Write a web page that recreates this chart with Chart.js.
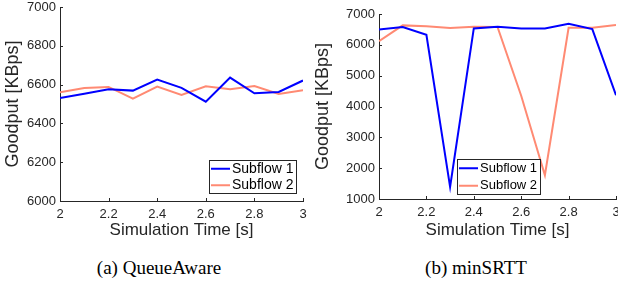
<!DOCTYPE html>
<html>
<head>
<meta charset="utf-8">
<script src="https://cdn.jsdelivr.net/npm/chart.js@4.4.0/dist/chart.umd.min.js"></script>
<style>
  body { margin: 0; background: #fff; width: 618px; height: 285px; position: relative; overflow: hidden; }
  .box { position: absolute; top: 0; }
  .cap { position: absolute; font-family: "Liberation Serif", "Times New Roman", serif; font-size: 19px; color: #000; transform: translateX(-50%); white-space: nowrap; }
</style>
</head>
<body>
<div class="box" style="left:0;width:310px;height:241px"><canvas id="queueChart" width="310" height="241"></canvas></div>
<div class="box" style="left:310px;width:308px;height:241px"><canvas id="srttChart" width="308" height="241"></canvas></div>
<div class="cap" style="left:159px;top:257px">(a) QueueAware</div>
<div class="cap" style="left:476px;top:257px">(b) minSRTT</div>
<script>
// temps de simulation (s)
const simTimes = [2.0, 2.1, 2.2, 2.3, 2.4, 2.5, 2.6, 2.7, 2.8, 2.9, 3.0];
const xTicks = [2, 2.2, 2.4, 2.6, 2.8, 3];

// (a) QueueAware
const queueSub1 = [6531, 6553, 6576, 6569, 6626, 6583, 6512, 6636, 6555, 6562, 6621];
const queueSub2 = [6560, 6583, 6588, 6528, 6590, 6547, 6591, 6576, 6593, 6552, 6571];
const queueYTicks = [6000, 6200, 6400, 6600, 6800, 7000];

// (b) minSRTT
const srttSub1 = [6501, 6577, 6327, 1391, 6533, 6588, 6533, 6533, 6685, 6512, 4364];
const srttSub2 = [6121, 6631, 6600, 6544, 6588, 6577, 4350, 1770, 6555, 6555, 6642];
const srttYTicks = [1000, 2000, 3000, 4000, 5000, 6000, 7000];

const seriesNames = ['Subflow 1', 'Subflow 2'];
const AXIS = '#262626';

// petites graduations vers l'intérieur + légende encadrée (style MATLAB)
const matlabPlugin = {
    id: 'matlabStyle',
    afterDraw(chart) {
        const ctx = chart.ctx;
        const area = chart.chartArea;
        const opts = chart.options.plugins.matlabStyle;
        ctx.save();
        ctx.strokeStyle = AXIS;
        ctx.lineWidth = 1;
        chart.scales.x.ticks.forEach(t => {
            const px = Math.round(chart.scales.x.getPixelForValue(t.value)) + 0.5;
            ctx.beginPath();
            ctx.moveTo(px, area.bottom);
            ctx.lineTo(px, area.bottom - 3);
            ctx.stroke();
        });
        chart.scales.y.ticks.forEach(t => {
            const py = Math.round(chart.scales.y.getPixelForValue(t.value)) + 0.5;
            ctx.beginPath();
            ctx.moveTo(area.left, py);
            ctx.lineTo(area.left + 3, py);
            ctx.stroke();
        });

        // légende
        const lg = opts.legend;
        ctx.fillStyle = '#fff';
        ctx.fillRect(lg.x, lg.y, lg.w, lg.h);
        ctx.strokeStyle = AXIS;
        ctx.strokeRect(lg.x + 0.5, lg.y + 0.5, lg.w, lg.h);
        ctx.font = lg.font + 'px "Liberation Sans", Arial, sans-serif';
        ctx.textBaseline = 'middle';
        chart.data.datasets.forEach((ds, i) => {
            const cy = lg.y + lg.h / 4 + i * lg.h / 2 + 0.5;
            ctx.strokeStyle = ds.borderColor;
            ctx.lineWidth = 2;
            ctx.beginPath();
            ctx.moveTo(lg.x + 2, cy);
            ctx.lineTo(lg.x + 21, cy);
            ctx.stroke();
            ctx.fillStyle = '#000';
            ctx.fillText(ds.label, lg.x + 23, cy);
        });
        ctx.restore();
    }
};

function makeChart(id, sub1, sub2, yTicks, yMin, yMax, dims, legend) {
    const ctx = document.getElementById(id).getContext('2d');
    return new Chart(ctx, {
        type: 'line',
        data: {
            datasets: [{
                label: seriesNames[0],
                data: simTimes.map((t, i) => ({ x: t, y: sub1[i] })),
                borderColor: '#0000ff',
                borderWidth: 2,
                pointRadius: 0,
                tension: 0
            }, {
                label: seriesNames[1],
                data: simTimes.map((t, i) => ({ x: t, y: sub2[i] })),
                borderColor: '#ff8a73',
                borderWidth: 2,
                pointRadius: 0,
                tension: 0
            }]
        },
        options: {
            responsive: false,
            animation: false,
            layout: {
                padding: { left: 0, right: dims.right, top: dims.top, bottom: 0 }
            },
            plugins: {
                legend: { display: false },
                tooltip: { enabled: false },
                matlabStyle: { legend: legend }
            },
            scales: {
                x: {
                    type: 'linear',
                    min: 2,
                    max: 3,
                    afterBuildTicks: s => { s.ticks = xTicks.map(v => ({ value: v })); },
                    afterFit: s => { s.height = dims.xHeight; s.paddingLeft = 0; s.paddingRight = 0; },
                    ticks: {
                        color: AXIS,
                        font: { size: 13, family: '"Liberation Sans", Arial, sans-serif' },
                        padding: 6,
                        maxRotation: 0,
                        autoSkip: false,
                        callback: v => String(v)
                    },
                    grid: { display: true, drawOnChartArea: false, drawTicks: false },
                    border: { display: true, color: AXIS, width: 1 },
                    title: {
                        display: true,
                        text: 'Simulation Time [s]',
                        color: AXIS,
                        font: { size: 17, family: '"Liberation Sans", Arial, sans-serif' },
                        padding: { top: 0, bottom: 0 }
                    }
                },
                y: {
                    min: yMin,
                    max: yMax,
                    afterBuildTicks: s => { s.ticks = yTicks.map(v => ({ value: v })); },
                    afterFit: s => { s.width = dims.yWidth; s.paddingTop = 0; s.paddingBottom = 0; },
                    ticks: {
                        color: AXIS,
                        font: { size: 13, family: '"Liberation Sans", Arial, sans-serif' },
                        padding: 4,
                        autoSkip: false,
                        callback: v => String(v)
                    },
                    grid: { display: true, drawOnChartArea: false, drawTicks: false },
                    border: { display: true, color: AXIS, width: 1 },
                    title: {
                        display: true,
                        text: 'Goodput [KBps]',
                        color: AXIS,
                        font: { size: 18, family: '"Liberation Sans", Arial, sans-serif' },
                        padding: { top: 2, bottom: 0 }
                    }
                }
            }
        },
        plugins: [matlabPlugin]
    });
}

makeChart('queueChart', queueSub1, queueSub2, queueYTicks, 6000, 7000,
    { right: 7, top: 7, xHeight: 40, yWidth: 60 },
    { x: 209, y: 160, w: 87, h: 33, font: 14 });

makeChart('srttChart', srttSub1, srttSub2, srttYTicks, 1000, 7000,
    { right: 2, top: 14, xHeight: 42, yWidth: 69 },
    { x: 147, y: 159, w: 83, h: 35, font: 13 });
</script>
</body>
</html>
